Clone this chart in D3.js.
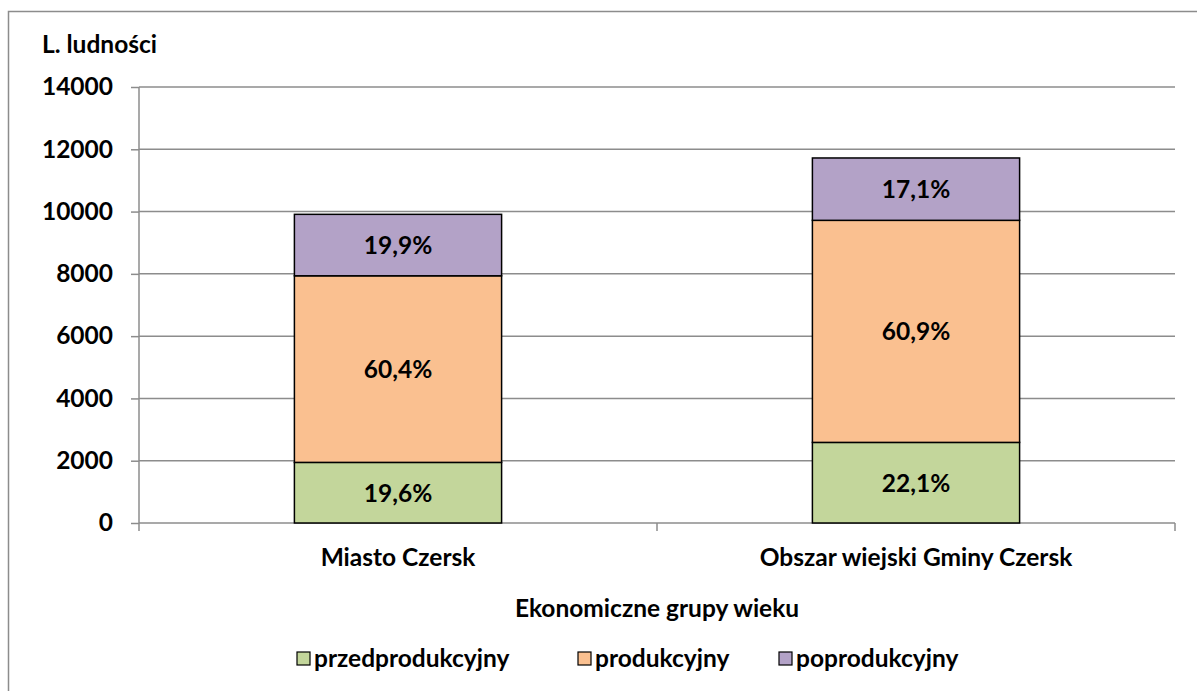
<!DOCTYPE html>
<html>
<head>
<meta charset="utf-8">
<title>Ekonomiczne grupy wieku</title>
<style>
  body {margin: 0; background: white;}
  svg text {font-family: Lato, "Open Sans", sans-serif; font-weight: bold; fill: black; font-size: 24.5px;}
</style>
</head>
<body>
<svg id="chart" width="1197" height="691"></svg>
<script src="https://d3js.org/d3.v7.min.js"></script>
<script>
// data
var categories = ["Miasto Czersk", "Obszar wiejski Gminy Czersk"];
var seriesNames = ["przedprodukcyjny", "produkcyjny", "poprodukcyjny"];
var przedprodukcyjny = [1946, 2588];
var produkcyjny = [5992, 7131];
var poprodukcyjny = [1973, 2002];
var pctLabels = [["19,6%", "60,4%", "19,9%"], ["22,1%", "60,9%", "17,1%"]];
var yTicks = [0, 2000, 4000, 6000, 8000, 10000, 12000, 14000];
var colors = ["#c3d69b", "#fac090", "#b3a2c7"];

var svg = d3.select("#chart");
var plot = {left: 139, right: 1175, top: 87, bottom: 523};
var grey = "#8c8c8c";

// outer frame
svg.append("rect")
  .attr("x", 8.5).attr("y", 11.5)
  .attr("width", 1250).attr("height", 750)
  .attr("fill", "none").attr("stroke", grey).attr("stroke-width", 1.5);

var x = d3.scaleBand().domain(categories).range([plot.left, plot.right]).padding(0);
var y = d3.scaleLinear().domain([0, 14000]).range([plot.bottom, plot.top]);

// gridlines
svg.append("g").selectAll("line")
  .data(yTicks).join("line")
  .attr("x1", plot.left).attr("x2", plot.right)
  .attr("y1", d => y(d)).attr("y2", d => y(d))
  .attr("stroke", grey).attr("stroke-width", 1.5);

// y axis
var yAxis = svg.append("g")
  .attr("transform", "translate(" + plot.left + ",0)")
  .call(d3.axisLeft(y).tickValues(yTicks).tickSize(8).tickPadding(18).tickFormat(d3.format("d")));
yAxis.select(".domain").remove();
yAxis.selectAll("line").attr("stroke", grey).attr("stroke-width", 1.5);
yAxis.selectAll("text").attr("font-size", null).attr("font-family", null);

svg.append("line")
  .attr("x1", plot.left).attr("x2", plot.left)
  .attr("y1", plot.top).attr("y2", plot.bottom + 8)
  .attr("stroke", grey).attr("stroke-width", 1.5);

// category ticks on x axis
svg.append("g").selectAll("line")
  .data([plot.left + x.step(), plot.right]).join("line")
  .attr("x1", d => d).attr("x2", d => d)
  .attr("y1", plot.bottom).attr("y2", plot.bottom + 8)
  .attr("stroke", grey).attr("stroke-width", 1.5);

// stacked bars
var rows = categories.map(function(c, i) {
  return {cat: c, idx: i, przedprodukcyjny: przedprodukcyjny[i], produkcyjny: produkcyjny[i], poprodukcyjny: poprodukcyjny[i]};
});
var stack = d3.stack().keys(seriesNames)(rows);
var barW = x.bandwidth() * 0.4;

var layers = svg.append("g").selectAll("g")
  .data(stack).join("g")
  .attr("fill", (d, i) => colors[i]);

layers.selectAll("rect")
  .data(d => d)
  .join("rect")
  .attr("x", d => x(d.data.cat) + (x.bandwidth() - barW) / 2)
  .attr("y", d => y(d[1]))
  .attr("width", barW)
  .attr("height", d => y(d[0]) - y(d[1]))
  .attr("stroke", "black").attr("stroke-width", 1.5);

layers.each(function(layer, si) {
  d3.select(this).selectAll("text")
    .data(layer)
    .join("text")
    .attr("x", d => x(d.data.cat) + x.bandwidth() / 2)
    .attr("y", d => (y(d[0]) + y(d[1])) / 2)
    .attr("dy", "0.36em")
    .attr("text-anchor", "middle")
    .text(d => pctLabels[d.data.idx][si]);
});

// category labels
svg.append("g").selectAll("text")
  .data(categories).join("text")
  .attr("x", d => x(d) + x.bandwidth() / 2)
  .attr("y", 566)
  .attr("text-anchor", "middle")
  .text(d => d);

// axis titles
svg.append("text").attr("x", 42).attr("y", 53).text("L. ludności");
svg.append("text").attr("x", (plot.left + plot.right) / 2).attr("y", 617)
  .attr("text-anchor", "middle").text("Ekonomiczne grupy wieku");

// legend
var legendX = [297, 578, 779];
var leg = svg.append("g").selectAll("g")
  .data(seriesNames).join("g")
  .attr("transform", (d, i) => "translate(" + legendX[i] + ",652)");
leg.append("rect")
  .attr("width", 13).attr("height", 13)
  .attr("fill", (d, i) => colors[i])
  .attr("stroke", "black").attr("stroke-width", 1.2);
leg.append("text")
  .attr("x", 17).attr("y", 6.5).attr("dy", "0.36em")
  .text(d => d);
</script>
</body>
</html>
